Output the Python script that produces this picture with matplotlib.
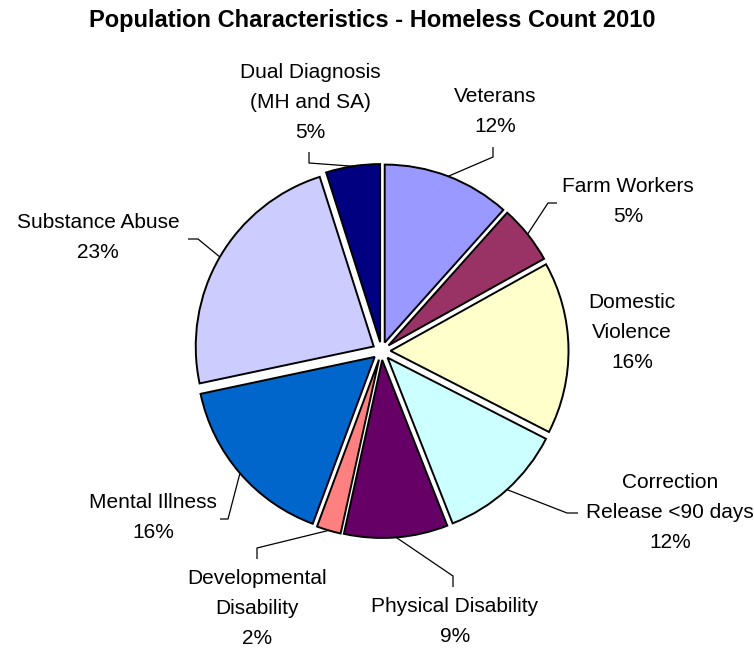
import numpy as np
import matplotlib
matplotlib.use("Agg")
import matplotlib.pyplot as plt

categories = ["Veterans", "Farm Workers", "Domestic\nViolence", "Correction\nRelease <90 days",
              "Physical Disability", "Developmental\nDisability", "Mental Illness",
              "Substance Abuse", "Dual Diagnosis\n(MH and SA)"]
values = [11.6, 5.3, 15.6, 11.5, 9.4, 2.2, 16.0, 23.4, 4.9]
colors = ["#9999FF", "#993366", "#FFFFCC", "#CCFFFF", "#660066", "#FF8080",
          "#0066CC", "#CCCCFF", "#000080"]
title = "Population Characteristics - Homeless Count 2010"

W, H = 754, 648
fig = plt.figure(figsize=(W / 100, H / 100), dpi=100)
ax = fig.add_axes([0, 0, 1, 1])

cx, cy = 381.5, H - 351
R = 178
explode = [9] * len(values)   # offsets in data units (px)

wedges, _ = ax.pie(values, colors=colors, startangle=90, counterclock=False,
                   radius=R, center=(cx, cy), explode=explode,
                   wedgeprops=dict(edgecolor="black", linewidth=1.4))
ax.set_xlim(0, W)
ax.set_ylim(0, H)
ax.set_aspect("equal")
ax.axis("off")

# label layout (image px: x centre, y centre) and leader elbows
label_pos = [(495, 111.5), (628, 201.5), (632, 333), (670, 512), (455, 621),
             (257, 608), (153, 517.5), (98, 237), (310, 102)]
elbows = [[(493, 147), (493, 157)],
          [(557, 203), (548, 203)],
          None,
          [(578, 513), (567, 513)],
          [(453, 587), (453, 576)],
          [(257, 559), (257, 548)],
          [(220, 519), (228, 519)],
          [(188, 239), (198, 239)],
          [(309, 152), (309, 163)]]

total = sum(values)
font = "Liberation Sans"
fs = 15
lh = 30
for i, (w, cat, v) in enumerate(zip(wedges, categories, values)):
    lines = cat.split("\n") + ["%d%%" % round(100 * v / total)]
    x, yc = label_pos[i]
    n = len(lines)
    for j, ln in enumerate(lines):
        yy = yc + (j - (n - 1) / 2) * lh
        ax.text(x, H - yy, ln, ha="center", va="center", fontsize=fs,
                family=font, color="black")
    if elbows[i] is not None:
        mid = np.deg2rad((w.theta1 + w.theta2) / 2)
        wx, wy = w.center
        ax_, ay_ = wx + R * np.cos(mid), wy + R * np.sin(mid)
        pts = [(p[0], H - p[1]) for p in elbows[i]] + [(ax_, ay_)]
        ax.plot([p[0] for p in pts], [p[1] for p in pts], color="black",
                linewidth=0.9, solid_capstyle="butt")

ax.text(W / 2 - 5, H - 20, title, ha="center", va="center", fontsize=17,
        fontweight="bold", family=font)

fig.savefig("out.png", dpi=100)
